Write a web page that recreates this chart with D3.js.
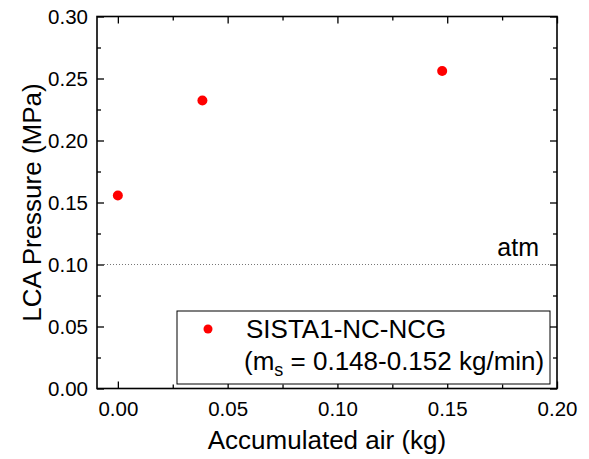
<!DOCTYPE html>
<html>
<head>
<meta charset="utf-8">
<script src="https://cdn.jsdelivr.net/npm/d3@7.9.0/dist/d3.min.js"></script>
<style>
  body { margin: 0; background: #fff; }
  svg { font-family: Arial, "Liberation Sans", sans-serif; }
  .tick line { stroke: #000; stroke-width: 1.3; }
  .tick text { fill: #000; font-size: 20.5px; }
</style>
</head>
<body>
<svg id="chart" width="589" height="459"></svg>
<script>
// data
const airKg = [0.0, 0.0385, 0.1477];
const pressureMPa = [0.1557, 0.2323, 0.2561];
const xMajorTicks = [0.00, 0.05, 0.10, 0.15, 0.20];
const xMinorTicks = [0.025, 0.075, 0.125, 0.175];
const yMajorTicks = [0.00, 0.05, 0.10, 0.15, 0.20, 0.25, 0.30];
const yMinorTicks = [0.025, 0.075, 0.125, 0.175, 0.225, 0.275];
const atmLevel = 0.10;
const seriesName = 'SISTA1-NC-NCG';

const svg = d3.select('#chart');
const plotLeft = 97, plotRight = 557, plotTop = 16.5, plotBottom = 388.5;

const x = d3.scaleLinear().domain([-0.0095, 0.20]).range([plotLeft, plotRight]);
const y = d3.scaleLinear().domain([0, 0.30]).range([plotBottom, plotTop]);

const fmt = d3.format('.2f');

// bottom
svg.append('g').attr('transform', `translate(0,${plotBottom})`)
  .call(d3.axisBottom(x).tickValues(xMajorTicks).tickSize(-7).tickPadding(13).tickFormat(fmt));
svg.append('g').attr('transform', `translate(0,${plotBottom})`)
  .call(d3.axisBottom(x).tickValues(xMinorTicks).tickSize(-4).tickFormat(''));
// top
svg.append('g').attr('transform', `translate(0,${plotTop})`)
  .call(d3.axisTop(x).tickValues(xMajorTicks).tickSize(-7).tickFormat(''));
svg.append('g').attr('transform', `translate(0,${plotTop})`)
  .call(d3.axisTop(x).tickValues(xMinorTicks).tickSize(-4).tickFormat(''));
// left
svg.append('g').attr('transform', `translate(${plotLeft},0)`)
  .call(d3.axisLeft(y).tickValues(yMajorTicks).tickSize(-7).tickPadding(9).tickFormat(fmt));
svg.append('g').attr('transform', `translate(${plotLeft},0)`)
  .call(d3.axisLeft(y).tickValues(yMinorTicks).tickSize(-4).tickFormat(''));
// right
svg.append('g').attr('transform', `translate(${plotRight},0)`)
  .call(d3.axisRight(y).tickValues(yMajorTicks).tickSize(-7).tickFormat(''));
svg.append('g').attr('transform', `translate(${plotRight},0)`)
  .call(d3.axisRight(y).tickValues(yMinorTicks).tickSize(-4).tickFormat(''));

svg.selectAll('.domain').remove();

// frame
svg.append('rect')
  .attr('x', plotLeft).attr('y', plotTop)
  .attr('width', plotRight - plotLeft).attr('height', plotBottom - plotTop)
  .attr('fill', 'none').attr('stroke', '#000').attr('stroke-width', 1.6);

// atmospheric line
svg.append('line')
  .attr('x1', plotLeft + 7).attr('x2', plotRight - 7)
  .attr('y1', y(atmLevel)).attr('y2', y(atmLevel))
  .attr('stroke', '#777').attr('stroke-width', 1).attr('stroke-dasharray', '1,2');
svg.append('text')
  .attr('x', 539).attr('y', y(atmLevel) - 9)
  .attr('text-anchor', 'end').attr('font-size', 25)
  .text('atm');

// points
svg.selectAll('circle.pt')
  .data(airKg.map((v, i) => [v, pressureMPa[i]]))
  .join('circle')
  .attr('class', 'pt')
  .attr('cx', d => x(d[0]))
  .attr('cy', d => y(d[1]))
  .attr('r', 5)
  .attr('fill', '#ff0000');

// legend
const legend = svg.append('g');
legend.append('rect')
  .attr('x', 177).attr('y', 311).attr('width', 373).attr('height', 73)
  .attr('fill', '#fff').attr('stroke', '#000').attr('stroke-width', 1);
legend.append('circle')
  .attr('cx', 208).attr('cy', 329).attr('r', 4.5).attr('fill', '#ff0000');
legend.append('text')
  .attr('x', 246).attr('y', 338).attr('font-size', 26)
  .text(seriesName);
const l2 = legend.append('text')
  .attr('x', 244).attr('y', 370).attr('font-size', 26);
l2.append('tspan').text('(m');
l2.append('tspan').attr('font-size', 18).attr('dy', 6).text('s');
l2.append('tspan').attr('dy', -6).text(' = 0.148-0.152 kg/min)');

// axis titles
svg.append('text')
  .attr('x', (plotLeft + plotRight) / 2).attr('y', 449)
  .attr('text-anchor', 'middle').attr('font-size', 26)
  .text('Accumulated air (kg)');
svg.append('text')
  .attr('transform', `translate(41,${(plotTop + plotBottom) / 2}) rotate(-90)`)
  .attr('text-anchor', 'middle').attr('font-size', 26)
  .text('LCA Pressure (MPa)');
</script>
</body>
</html>
